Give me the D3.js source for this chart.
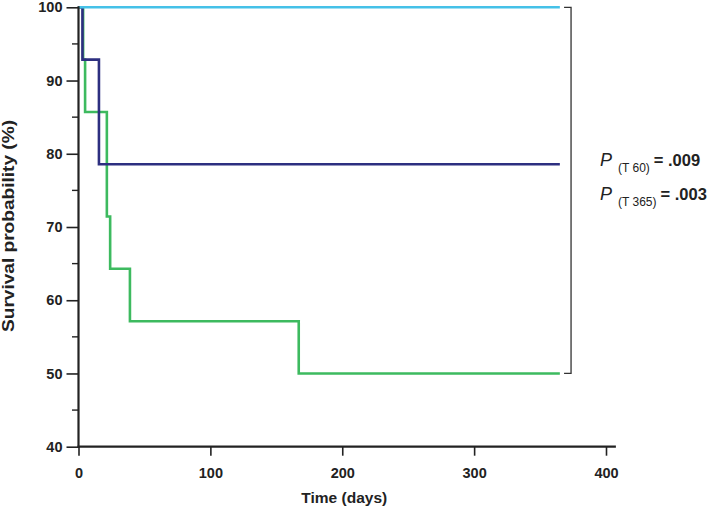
<!DOCTYPE html>
<html><head><meta charset="utf-8">
<script src="https://cdn.jsdelivr.net/npm/d3@7"></script>
<style>body{margin:0;background:#fff}svg{display:block}</style>
</head><body>
<svg id="c" width="709" height="506"></svg>
<script>
// Data (Kaplan-Meier step points: time in days, survival %)
const cyanTimes  = [0, 365];
const cyanValues = [100, 100];
const navyTimes  = [0, 3, 15.5, 365];
const navyValues = [100, 92.86, 78.57, 78.57];
const greenTimes  = [0, 3.5, 5, 21.5, 24, 39, 167, 365];
const greenValues = [100, 92.86, 85.71, 71.43, 64.29, 57.14, 50, 50];
const xTicks = [0, 100, 200, 300, 400];
const yTicks = [40, 50, 60, 70, 80, 90, 100];
const yMinorTicks = [45, 55, 65, 75, 85, 95];
const pLabels = [{sub: "(T 60)", val: "= .009"}, {sub: "(T 365)", val: "= .003"}];

const svg = d3.select("#c");
const x = d3.scaleLinear().domain([0, 400]).range([78.5, 606]);
const y = d3.scaleLinear().domain([40, 100]).range([446.7, 7.3]);
const axisFont = "'Liberation Sans',Arial,Helvetica,sans-serif";

// lines
const line = d3.line().x(d => x(d[0])).y(d => y(d[1])).curve(d3.curveStepAfter);
const series = [
  {t: greenTimes, v: greenValues, c: "#3dba5f"},
  {t: navyTimes, v: navyValues, c: "#2d2f80"},
  {t: cyanTimes, v: cyanValues, c: "#45c1e8"}
];
series.forEach(s => {
  svg.append("path").datum(s.t.map((t, i) => [t, s.v[i]]))
    .attr("d", line).attr("fill", "none").attr("stroke", s.c).attr("stroke-width", 2.6);
});

// y axis
const gy = svg.append("g").attr("transform", `translate(${x(0)},0)`)
  .call(d3.axisLeft(y).tickValues(yTicks).tickSize(12).tickPadding(4).tickFormat(d3.format("d")));
gy.select(".domain").remove();
gy.selectAll(".tick line").attr("stroke", "#222").attr("stroke-width", 1.6);
gy.selectAll("text").attr("font-family", axisFont).attr("font-weight", "bold").attr("font-size", 14.5).attr("fill", "#222");
svg.append("g").selectAll("line").data(yMinorTicks).join("line")
  .attr("x1", x(0) - 6.5).attr("x2", x(0)).attr("y1", d => y(d)).attr("y2", d => y(d))
  .attr("stroke", "#222").attr("stroke-width", 1.4);

// x axis
const gx = svg.append("g").attr("transform", `translate(0,${y(40)})`)
  .call(d3.axisBottom(x).tickValues(xTicks).tickSize(9).tickPadding(12).tickFormat(d3.format("d")));
gx.select(".domain").remove();
gx.selectAll(".tick line").attr("stroke", "#222").attr("stroke-width", 1.6);
gx.selectAll("text").attr("font-family", axisFont).attr("font-weight", "bold").attr("font-size", 14.5).attr("fill", "#222");

// axis lines
svg.append("line").attr("x1", x(0)).attr("x2", x(0)).attr("y1", y(100) - 1).attr("y2", y(40) + 1)
  .attr("stroke", "#222").attr("stroke-width", 2.2);
svg.append("line").attr("x1", x(0) - 1).attr("x2", x(407.5)).attr("y1", y(40)).attr("y2", y(40))
  .attr("stroke", "#222").attr("stroke-width", 2.2);

// axis titles
svg.append("text").attr("x", x(200) + 2).attr("y", 503).attr("text-anchor", "middle")
  .attr("font-family", axisFont).attr("font-weight", "bold").attr("font-size", 15.5).attr("fill", "#222")
  .text("Time (days)");
svg.append("text").attr("transform", `translate(14,226) rotate(-90)`).attr("text-anchor", "middle")
  .attr("font-family", axisFont).attr("font-weight", "bold").attr("font-size", 16).attr("fill", "#222")
  .attr("textLength", 212).attr("lengthAdjust", "spacingAndGlyphs")
  .text("Survival probability (%)");

// bracket
const bx = x(373.5);
svg.append("path")
  .attr("d", `M${bx - 7},${y(100)} H${bx} V${y(50)} H${bx - 7}`)
  .attr("fill", "none").attr("stroke", "#333").attr("stroke-width", 1.3);

// p-values
const pf = "'Liberation Sans',Arial,sans-serif";
pLabels.forEach((p, i) => {
  const t = svg.append("text").attr("x", 600).attr("y", 166 + i * 34)
    .attr("font-family", pf).attr("font-size", 18).attr("fill", "#222");
  t.append("tspan").attr("font-style", "italic").text("P");
  t.append("tspan").attr("font-size", 12).attr("dx", 6).attr("dy", 6).text(p.sub);
  t.append("tspan").attr("font-weight", "bold").attr("font-size", 16.5).attr("dx", 4).attr("dy", -6).text(p.val);
});
</script>
</body></html>
